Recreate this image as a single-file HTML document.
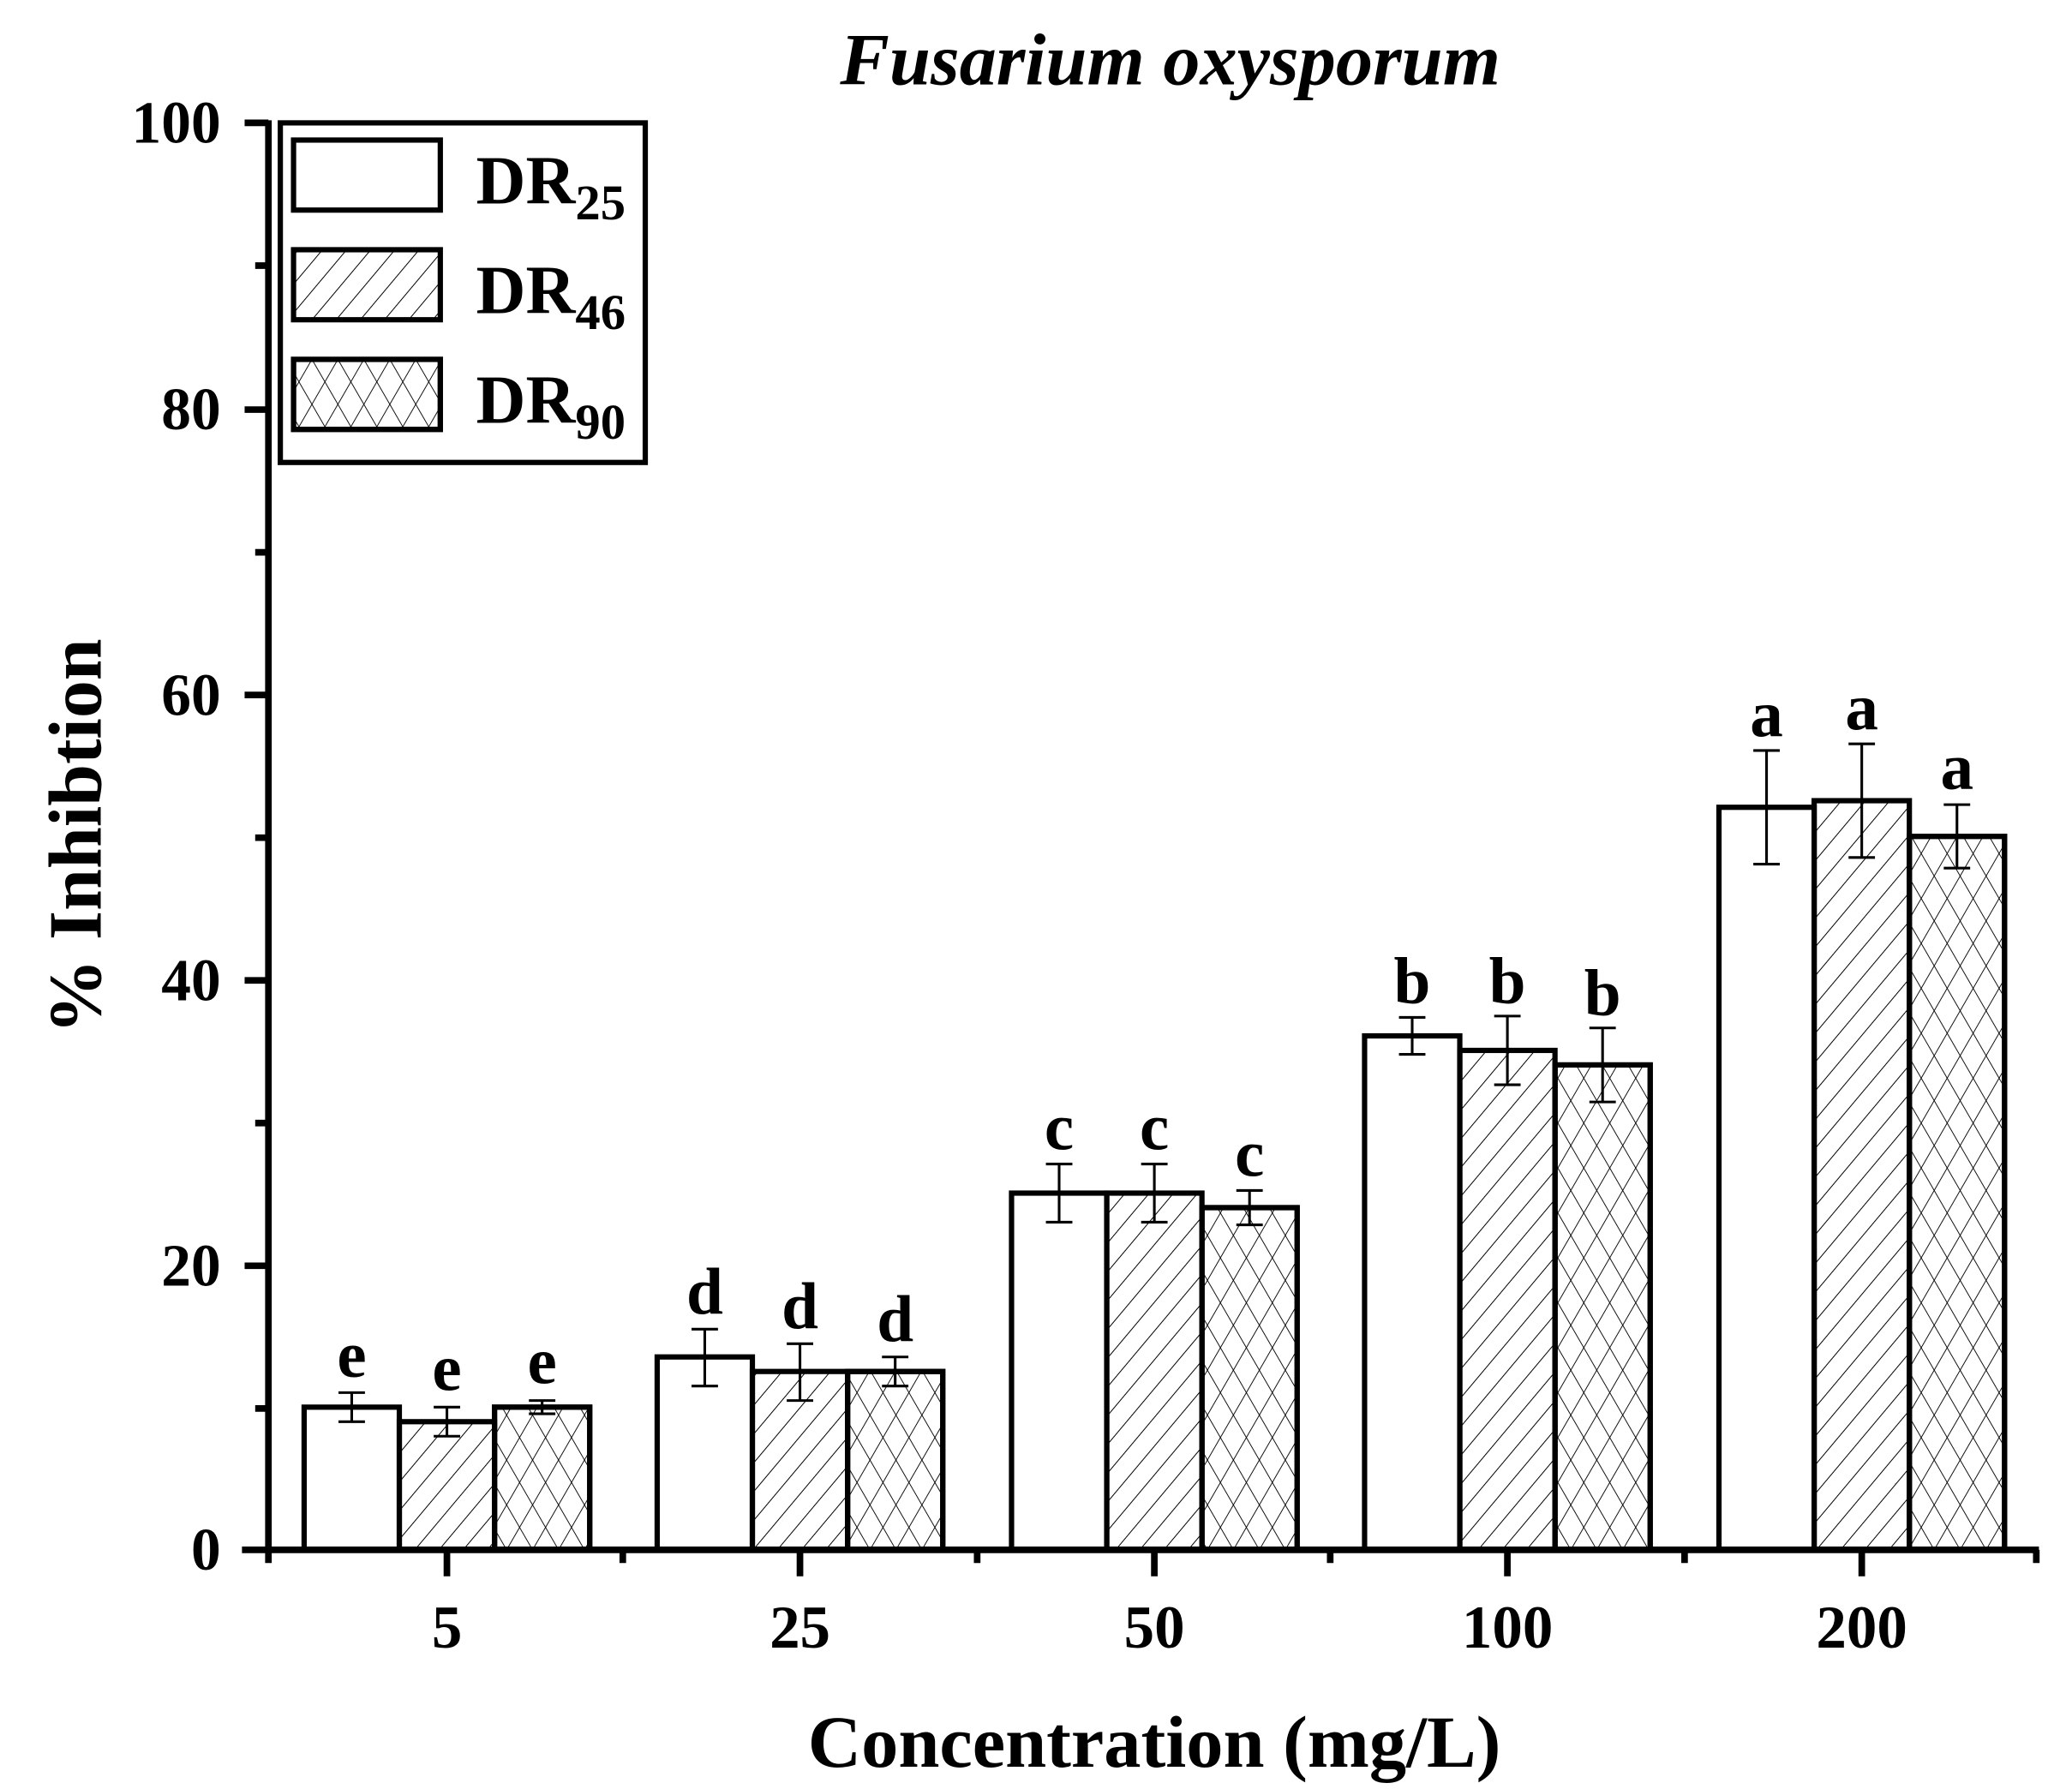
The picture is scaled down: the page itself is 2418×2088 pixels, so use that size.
<!DOCTYPE html>
<html><head><style>html,body{margin:0;padding:0;background:#fff}svg{display:block}</style></head>
<body>
<svg width="2418" height="2088" viewBox="0 0 1567 1354" preserveAspectRatio="none" xmlns="http://www.w3.org/2000/svg" font-family="Liberation Serif, serif" font-weight="bold">
<defs>
<pattern id="h" patternUnits="userSpaceOnUse" width="14" height="14" patternTransform="rotate(40)">
<line x1="0" y1="0" x2="0" y2="14" stroke="#000" stroke-width="1.3"/></pattern>
<pattern id="x" patternUnits="userSpaceOnUse" width="17" height="17" patternTransform="rotate(30)">
<line x1="0" y1="0" x2="0" y2="17" stroke="#000" stroke-width="1.2"/></pattern>
<pattern id="x2" patternUnits="userSpaceOnUse" width="17" height="17" patternTransform="rotate(-30)">
<line x1="0" y1="0" x2="0" y2="17" stroke="#000" stroke-width="1.2"/></pattern>
</defs>
<rect width="1567" height="1354" fill="#fff"/>
<text x="885" y="64" font-size="56" font-style="italic" text-anchor="middle">Fusarium oxysporum</text>
<g stroke="#000" stroke-width="4">
<rect x="230" y="1065" width="72" height="108" fill="#fff"/>
<rect x="302" y="1076" width="72" height="97" fill="url(#h)"/>
<rect x="374" y="1065" width="72" height="108" fill="url(#x)"/>
<rect x="374" y="1065" width="72" height="108" fill="url(#x2)"/>
<rect x="497" y="1027" width="72" height="146" fill="#fff"/>
<rect x="569" y="1038" width="72" height="135" fill="url(#h)"/>
<rect x="641" y="1038" width="72" height="135" fill="url(#x)"/>
<rect x="641" y="1038" width="72" height="135" fill="url(#x2)"/>
<rect x="765" y="903" width="72" height="270" fill="#fff"/>
<rect x="837" y="903" width="72" height="270" fill="url(#h)"/>
<rect x="909" y="914" width="72" height="259" fill="url(#x)"/>
<rect x="909" y="914" width="72" height="259" fill="url(#x2)"/>
<rect x="1032" y="784" width="72" height="389" fill="#fff"/>
<rect x="1104" y="795" width="72" height="378" fill="url(#h)"/>
<rect x="1176" y="806" width="72" height="367" fill="url(#x)"/>
<rect x="1176" y="806" width="72" height="367" fill="url(#x2)"/>
<rect x="1300" y="611" width="72" height="562" fill="#fff"/>
<rect x="1372" y="606" width="72" height="567" fill="url(#h)"/>
<rect x="1444" y="633" width="72" height="540" fill="url(#x)"/>
<rect x="1444" y="633" width="72" height="540" fill="url(#x2)"/>
</g>
<g stroke="#000" stroke-width="2" fill="none">
<path d="M266 1054V1076M256 1054H276M256 1076H276"/>
<path d="M338 1065V1087M328 1065H348M328 1087H348"/>
<path d="M410 1060V1070M400 1060H420M400 1070H420"/>
<path d="M533 1006V1049M523 1006H543M523 1049H543"/>
<path d="M605 1017V1060M595 1017H615M595 1060H615"/>
<path d="M677 1027V1049M667 1027H687M667 1049H687"/>
<path d="M801 881V925M791 881H811M791 925H811"/>
<path d="M873 881V925M863 881H883M863 925H883"/>
<path d="M945 901V927M935 901H955M935 927H955"/>
<path d="M1068 770V798M1058 770H1078M1058 798H1078"/>
<path d="M1140 769V821M1130 769H1150M1130 821H1150"/>
<path d="M1212 778V834M1202 778H1222M1202 834H1222"/>
<path d="M1336 568V654M1326 568H1346M1326 654H1346"/>
<path d="M1408 563V649M1398 563H1418M1398 649H1418"/>
<path d="M1480 609V657M1470 609H1490M1470 657H1490"/>
</g>
<g font-size="50" text-anchor="middle">
<text x="266" y="1042">e</text><text x="338" y="1052">e</text><text x="410" y="1047">e</text>
<text x="533" y="994">d</text><text x="605" y="1005">d</text><text x="677" y="1015">d</text>
<text x="801" y="870">c</text><text x="873" y="870">c</text><text x="945" y="890">c</text>
<text x="1068" y="759">b</text><text x="1140" y="759">b</text><text x="1212" y="768">b</text>
<text x="1336" y="557">a</text><text x="1408" y="552">a</text><text x="1480" y="597">a</text>
</g>
<g stroke="#000" stroke-width="5" fill="none">
<path d="M203 91V1173"/>
<path d="M183 1173H1542"/>
<path d="M185 93H203M185 310H203M185 526H203M185 742H203M185 958H203"/>
<path d="M193 201H203M193 418H203M193 634H203M193 850H203M193 1066H203"/>
<path d="M338 1173V1193M605 1173V1193M873 1173V1193M1140 1173V1193M1408 1173V1193"/>
<path d="M203 1173V1183M471 1173V1183M739 1173V1183M1006 1173V1183M1274 1173V1183M1540 1173V1183"/>
</g>
<g font-size="45" text-anchor="end">
<text x="167" y="108">100</text><text x="167" y="325">80</text><text x="167" y="541">60</text>
<text x="167" y="757">40</text><text x="167" y="973">20</text><text x="167" y="1188">0</text>
</g>
<g font-size="46" text-anchor="middle">
<text x="338" y="1247">5</text><text x="605" y="1247">25</text><text x="873" y="1247">50</text>
<text x="1140" y="1247">100</text><text x="1408" y="1247">200</text>
</g>
<text x="873" y="1337" font-size="56" text-anchor="middle">Concentration (mg/L)</text>
<text transform="translate(76,633) rotate(-90)" font-size="57" text-anchor="middle">% Inhibtion</text>
<rect x="212" y="93" width="276" height="257" fill="#fff" stroke="#000" stroke-width="4"/>
<g stroke="#000" stroke-width="4">
<rect x="222" y="106" width="111" height="53" fill="#fff"/>
<rect x="222" y="189" width="111" height="53" fill="url(#h)"/>
<rect x="222" y="272" width="111" height="53" fill="url(#x)"/>
<rect x="222" y="272" width="111" height="53" fill="url(#x2)"/>
</g>
<g font-size="52">
<text x="360" y="154">DR<tspan font-size="38" dy="12">25</tspan></text>
<text x="360" y="237">DR<tspan font-size="38" dy="12">46</tspan></text>
<text x="360" y="320">DR<tspan font-size="38" dy="12">90</tspan></text>
</g>
</svg>
</body></html>
